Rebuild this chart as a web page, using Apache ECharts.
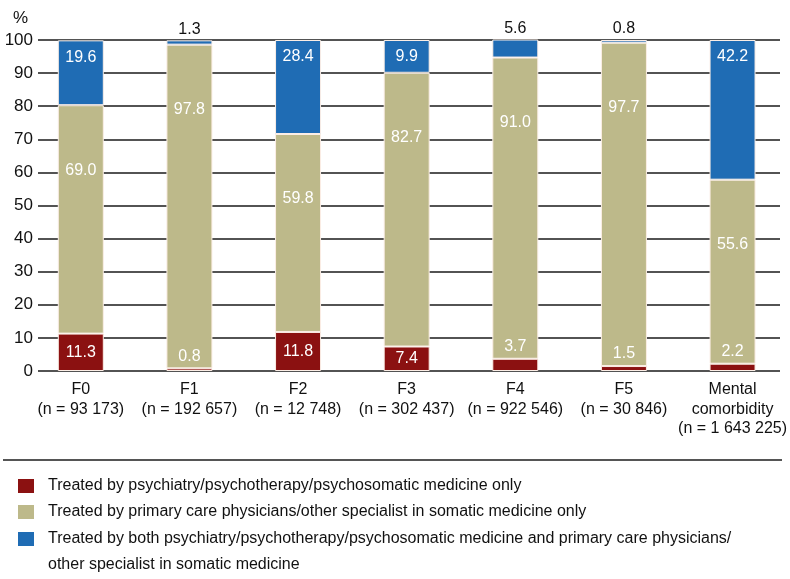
<!DOCTYPE html>
<html>
<head>
<meta charset="utf-8">
<script src="https://cdn.jsdelivr.net/npm/echarts@6/dist/echarts.min.js"></script>
<style>html,body{margin:0;padding:0;background:#fff}#c{width:790px;height:579px}</style>
</head>
<body>
<div id="c"></div>
<script>
const categories = ['F0\n(n = 93 173)', 'F1\n(n = 192 657)', 'F2\n(n = 12 748)', 'F3\n(n = 302 437)', 'F4\n(n = 922 546)', 'F5\n(n = 30 846)', 'Mental\ncomorbidity\n(n = 1 643 225)'];
const psychOnly = [11.3, 0.8, 11.8, 7.4, 3.7, 1.5, 2.2];
const primaryOnly = [69.0, 97.8, 59.8, 82.7, 91.0, 97.7, 55.6];
const both = [19.6, 1.3, 28.4, 9.9, 5.6, 0.8, 42.2];
const yTicks = [0, 10, 20, 30, 40, 50, 60, 70, 80, 90, 100];

const names = [
  'Treated by psychiatry/psychotherapy/psychosomatic medicine only',
  'Treated by primary care physicians/other specialist in somatic medicine only',
  'Treated by both psychiatry/psychotherapy/psychosomatic medicine and primary care physicians/'
];
const nameContinuation = 'other specialist in somatic medicine';
const colors = ['#8b1111', '#bdb98a', '#1f6cb4'];
const FONT = 'Liberation Sans, Arial, sans-serif';
const fmt = p => p.value.toFixed(1);

const psychData = psychOnly.map(v => ({
  value: v,
  label: v >= 7
    ? { show: true, position: 'inside', color: '#fff' }
    : { show: true, position: 'top', distance: 4, color: '#fff' }
}));
const primaryData = primaryOnly.map(v => ({
  value: v,
  label: { show: true, position: 'insideTop', distance: 57, color: '#fff' }
}));
const bothData = both.map(v => ({
  value: v,
  label: v >= 7
    ? { show: true, position: 'insideTop', distance: 9, color: '#fff' }
    : { show: true, position: 'top', distance: 3, color: '#111' }
}));

const baseSeries = {
  type: 'bar', stack: 'total', barWidth: 46, xAxisIndex: 0, yAxisIndex: 0,
  label: { fontFamily: FONT, fontSize: 16, formatter: fmt },
  emphasis: { disabled: true }
};
function mkSeries(i, data) {
  return Object.assign({}, baseSeries, {
    name: names[i], data: data,
    itemStyle: { color: colors[i], borderColor: '#fbeee6', borderWidth: 1 }
  });
}

const legendCommon = {
  orient: 'vertical', left: 18, padding: 0, itemWidth: 16, itemHeight: 14, itemGap: 10,
  icon: 'rect', selectedMode: false,
  itemStyle: { borderWidth: 0 },
  textStyle: { fontSize: 16, color: '#111', fontFamily: FONT, padding: [0, 0, 0, 9] }
};

const chart = echarts.init(document.getElementById('c'), null, { renderer: 'canvas' });
chart.setOption({
  animation: false,
  backgroundColor: '#fff',
  textStyle: { fontFamily: FONT },
  title: { text: '%', left: 8, top: 5, textStyle: { fontSize: 17, fontWeight: 'normal', color: '#111', fontFamily: FONT } },
  grid: [
    { left: 26.5, width: 761, top: 40, height: 331 },
    { left: 38, width: 742, top: 40, height: 331 }
  ],
  xAxis: [
    { type: 'category', gridIndex: 0, data: categories,
      axisLine: { show: false }, axisTick: { show: false },
      axisLabel: { color: '#111', fontSize: 16, lineHeight: 19.5, margin: 9, interval: 0, fontFamily: FONT } },
    { type: 'value', gridIndex: 1, show: false, min: 0, max: 1 }
  ],
  yAxis: [
    { type: 'value', gridIndex: 0, min: 0, max: 100, show: false },
    { type: 'value', gridIndex: 1, min: yTicks[0], max: yTicks[yTicks.length - 1], interval: 10,
      axisLine: { show: false }, axisTick: { show: false },
      axisLabel: { color: '#111', fontSize: 17, margin: 5, fontFamily: FONT },
      splitLine: { show: true, lineStyle: { color: '#1a1a1a', width: 1.5 } } }
  ],
  legend: [
    Object.assign({}, legendCommon, { top: 478, data: [names[0], names[1]] }),
    Object.assign({}, legendCommon, { top: 531, data: [names[2]] })
  ],
  graphic: [
    { type: 'line', shape: { x1: 3, y1: 460, x2: 782, y2: 460 }, style: { stroke: '#555', lineWidth: 2 } },
    { type: 'text', left: 48, top: 557, style: { text: nameContinuation, fontSize: 16, fill: '#111', fontFamily: FONT } }
  ],
  series: [
    mkSeries(0, psychData),
    mkSeries(1, primaryData),
    mkSeries(2, bothData)
  ]
});
</script>
</body>
</html>
